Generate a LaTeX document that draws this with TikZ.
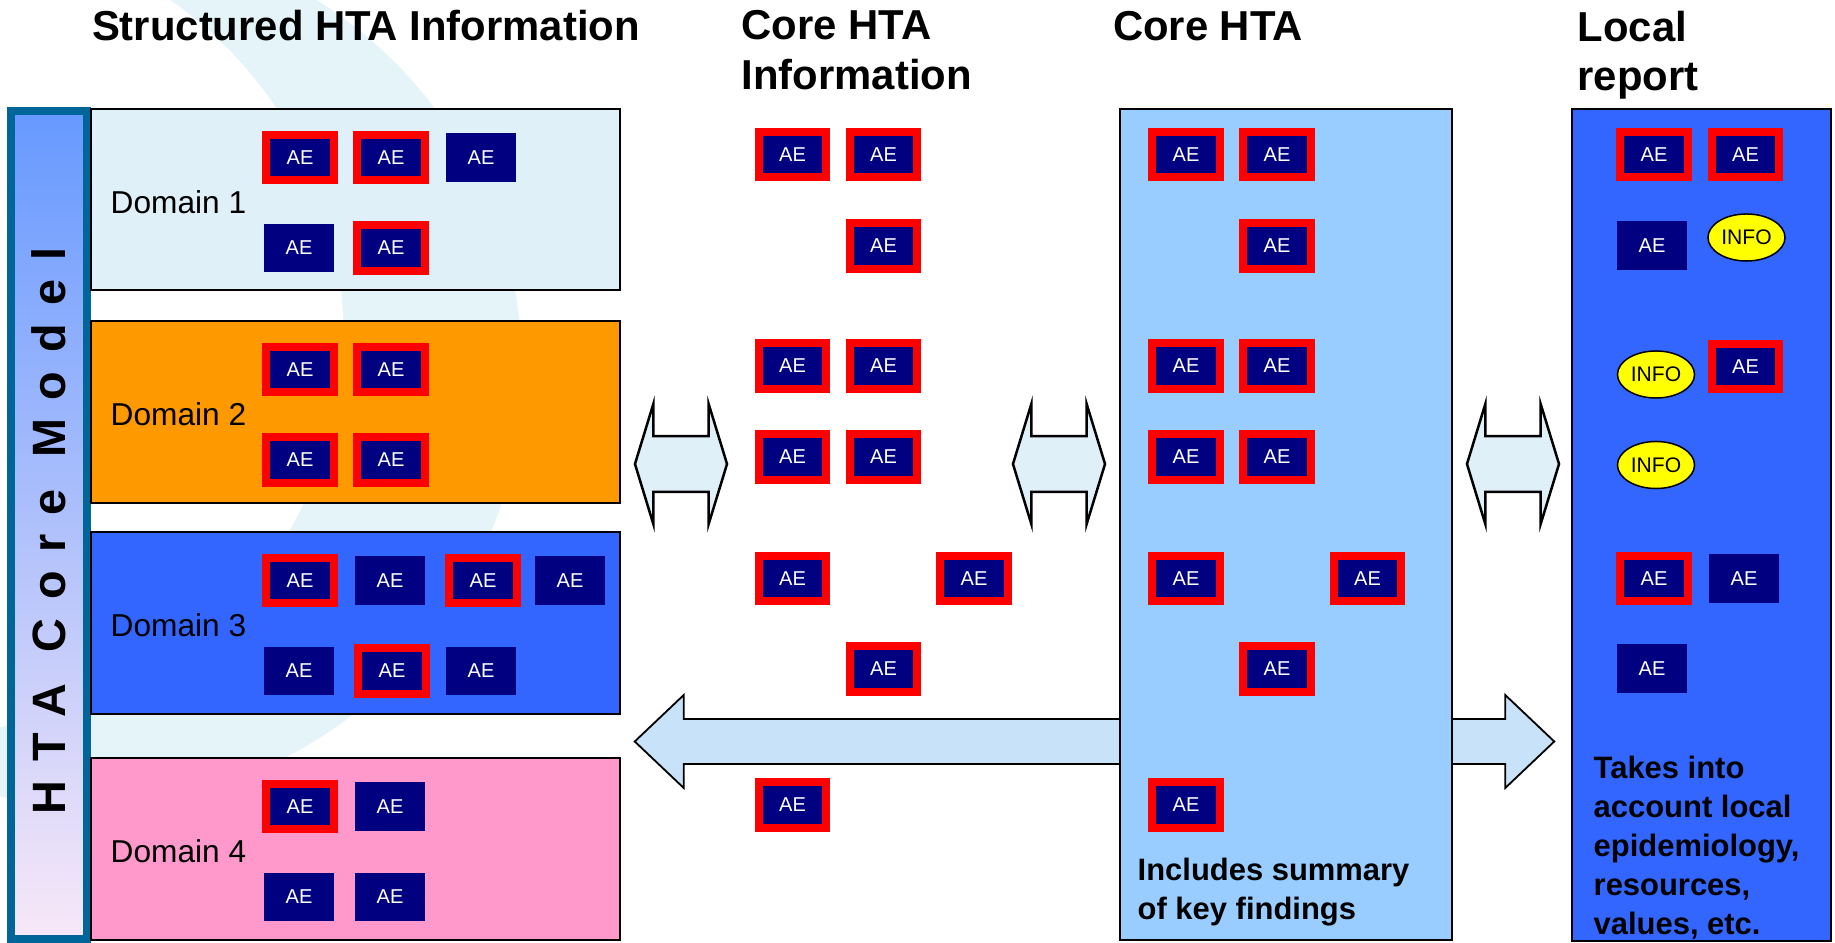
\documentclass[tikz,border=0pt]{standalone}
\usepackage{fontspec}
\setmainfont{Liberation Sans}
\usetikzlibrary{shapes.geometric,shapes.arrows,positioning}

\definecolor{aenavy}{HTML}{000080}
\definecolor{aeframe}{HTML}{FF0000}
\definecolor{dompale}{HTML}{E0F0F8}
\definecolor{domorange}{HTML}{FF9900}
\definecolor{domblue}{HTML}{3366FF}
\definecolor{dompink}{HTML}{FF99CC}
\definecolor{corefill}{HTML}{99CCFF}
\definecolor{barframe}{HTML}{006699}
\definecolor{bartop}{HTML}{6699FF}
\definecolor{barbottom}{HTML}{F8E8F8}
\definecolor{swirl}{HTML}{E4F4F8}
\definecolor{bigarrow}{HTML}{C8E2FA}
\definecolor{infoyellow}{HTML}{FFFF00}

\begin{document}
\begin{tikzpicture}[
    x=0.01cm, y=-0.01cm,
    headtxt/.style={font=\fontsize{11.9}{14.2}\selectfont\bfseries, inner sep=0, align=left},
    bodytxt/.style={font=\fontsize{8.8}{11.07}\selectfont\bfseries, inner sep=0, align=left, anchor=west},
    dombox/.style={rectangle, draw, line width=0.02cm, minimum width=5.29cm, minimum height=1.81cm},
    domlabel/.style={font=\fontsize{9}{11}\selectfont, inner sep=0, anchor=west},
    panel/.style={rectangle, draw, line width=0.02cm},
    aeplain/.style={rectangle, fill=aenavy, text=white, minimum width=0.70cm, minimum height=0.48cm, inner sep=0, font=\fontsize{5.7}{6}\selectfont},
    aemarked/.style={aeplain, draw=aeframe, line width=0.08cm, minimum width=0.67cm, minimum height=0.45cm},
    infobox/.style={ellipse, draw, fill=infoyellow, line width=0.015cm, minimum width=0.77cm, minimum height=0.47cm, inner sep=0, font=\fontsize{6}{7}\selectfont},
    linkarrow/.style={double arrow, draw, line width=0.025cm, fill=dompale, inner xsep=0, inner ysep=0.265cm, minimum height=0.92cm, double arrow head extend=0.325cm, double arrow tip angle=146}
]
\useasboundingbox (0,0) rectangle (1835,943);

% Background swirl
\begin{scope}
  \clip (0,0) rectangle (1835,943);
  \fill[swirl, even odd rule] (87,370) circle[radius=4.35cm] (-58,330) circle[radius=4.01cm];
\end{scope}

% Titles
\node[headtxt, anchor=base] (struct) at (366,41) {Structured HTA Information};
\node[headtxt, anchor=north west] (coreinfo) at (741,10) {Core HTA\\Information};
\node[headtxt, anchor=base] (corehta) at (1208,41) {Core HTA};
\node[headtxt, anchor=north west] (local) at (1577,10) {Local\\report};

% Core model bar
\node[rectangle, draw=barframe, line width=0.08cm, top color=bartop, bottom color=barbottom, minimum width=0.76cm, minimum height=8.28cm, inner sep=0] (model) at (49,525) {};
\node[rotate=90, inner sep=0, font=\fontsize{13.3}{15}\selectfont\bfseries\addfontfeature{LetterSpace=40}] (modellab) at (49,531) {HTA Core Model};

% Domains
\node[dombox, fill=dompale] (dom1) at (355.5,199.5) {};
\node[dombox, fill=domorange] (dom2) at (355.5,412) {};
\node[dombox, fill=domblue] (dom3) at (355.5,623) {};
\node[dombox, fill=dompink] (dom4) at (355.5,849) {};
\node[domlabel] (dom1lab) at (110,202) {Domain 1};
\node[domlabel] (dom2lab) at (110,414) {Domain 2};
\node[domlabel] (dom3lab) at (110,625) {Domain 3};
\node[domlabel] (dom4lab) at (110,851) {Domain 4};

% Big arrow behind the core HTA
\node[linkarrow, fill=bigarrow, line width=0.018cm, inner ysep=0.215cm, minimum height=9.19cm, double arrow head extend=0.24cm, double arrow tip angle=87] (wide) at (1094.5,741.5) {};

% Columns
\node[panel, fill=corefill, minimum width=3.32cm, minimum height=8.31cm] (core) at (1286,524.5) {};
\node[panel, fill=domblue, minimum width=2.59cm, minimum height=8.32cm] (report) at (1701.5,525) {};

% Small arrows
\node[linkarrow] (link1) at (681,464) {};
\node[linkarrow] (link2) at (1059,464) {};
\node[linkarrow] (link3) at (1513,464) {};

% Domain 1
\node[aemarked] (d1a) at (300,157.5) {AE};
\node[aemarked] (d1b) at (391,157.5) {AE};
\node[aeplain] (d1c) at (481,157.5) {AE};
\node[aeplain] (d1d) at (299,248) {AE};
\node[aemarked] (d1e) at (391,248) {AE};

% Domain 2
\node[aemarked] (d2a) at (300,369.5) {AE};
\node[aemarked] (d2b) at (391,369.5) {AE};
\node[aemarked] (d2c) at (300,460) {AE};
\node[aemarked] (d2d) at (391,460) {AE};

% Domain 3
\node[aemarked] (d3a) at (300,580.5) {AE};
\node[aeplain] (d3b) at (390,580.5) {AE};
\node[aemarked] (d3c) at (483,580.5) {AE};
\node[aeplain] (d3d) at (570,580.5) {AE};
\node[aeplain] (d3e) at (299,671) {AE};
\node[aemarked] (d3f) at (392,671) {AE};
\node[aeplain] (d3g) at (481,671) {AE};

% Domain 4
\node[aemarked] (d4a) at (300,806.5) {AE};
\node[aeplain] (d4b) at (390,806.5) {AE};
\node[aeplain] (d4c) at (299,897) {AE};
\node[aeplain] (d4d) at (390,897) {AE};

% Core HTA information
\node[aemarked] (ci1) at (792.5,154.5) {AE};
\node[aemarked] (ci2) at (883.5,154.5) {AE};
\node[aemarked] (ci3) at (883.5,246) {AE};
\node[aemarked] (ci4) at (792.5,366) {AE};
\node[aemarked] (ci5) at (883.5,366) {AE};
\node[aemarked] (ci6) at (792.5,457) {AE};
\node[aemarked] (ci7) at (883.5,457) {AE};
\node[aemarked] (ci8) at (792.5,578.5) {AE};
\node[aemarked] (ci9) at (974,578.5) {AE};
\node[aemarked] (ci10) at (883.5,669) {AE};
\node[aemarked] (ci11) at (792.5,805) {AE};

% Core HTA
\node[aemarked] (ch1) at (1186,154.5) {AE};
\node[aemarked] (ch2) at (1277,154.5) {AE};
\node[aemarked] (ch3) at (1277,246) {AE};
\node[aemarked] (ch4) at (1186,366) {AE};
\node[aemarked] (ch5) at (1277,366) {AE};
\node[aemarked] (ch6) at (1186,457) {AE};
\node[aemarked] (ch7) at (1277,457) {AE};
\node[aemarked] (ch8) at (1186,578.5) {AE};
\node[aemarked] (ch9) at (1367.5,578.5) {AE};
\node[aemarked] (ch10) at (1277,669) {AE};
\node[aemarked] (ch11) at (1186,805) {AE};
\node[bodytxt] (summary) at (1137,892) {Includes summary\\of key findings};

% Local report
\node[aemarked] (lr1) at (1654,154.5) {AE};
\node[aemarked] (lr2) at (1745.5,154.5) {AE};
\node[aeplain] (lr3) at (1652,245.5) {AE};
\node[infobox] (info1) at (1746.5,237.5) {INFO};
\node[infobox] (info2) at (1656,374.5) {INFO};
\node[aemarked] (lr4) at (1745.5,366.5) {AE};
\node[infobox] (info3) at (1656,465) {INFO};
\node[aemarked] (lr5) at (1654,578.5) {AE};
\node[aeplain] (lr6) at (1744,578.5) {AE};
\node[aeplain] (lr7) at (1652,668.5) {AE};
\node[bodytxt] (localnote) at (1593,848) {Takes into\\account local\\epidemiology,\\resources,\\values, etc.};

\end{tikzpicture}
\end{document}
